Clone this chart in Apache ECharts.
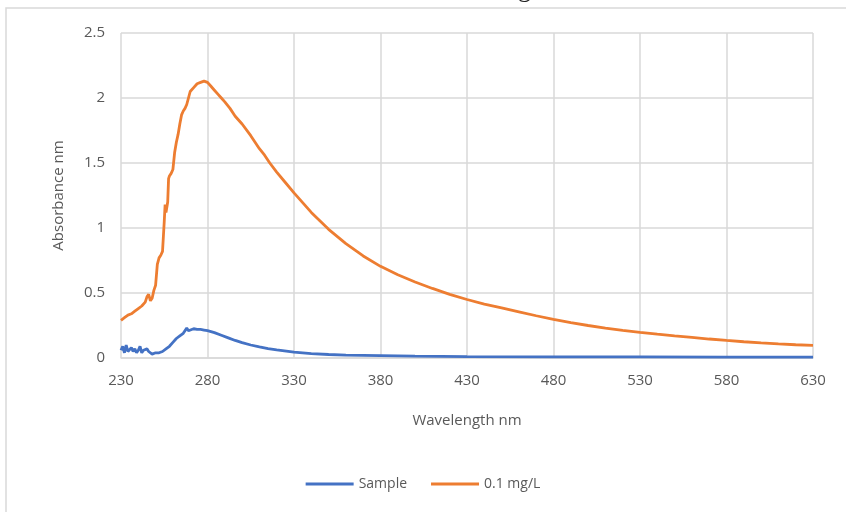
<!DOCTYPE html>
<html>
<head>
<meta charset="utf-8">
<script src="https://cdn.jsdelivr.net/npm/echarts@6/dist/echarts.min.js"></script>
<style>
  html, body { margin: 0; padding: 0; background: #fff; }
  #main { width: 846px; height: 512px; }
</style>
</head>
<body>
<div id="main"></div>
<script>
// wavelength axis starts at 230, ticks every 50
var xStart = 230
var xTicks = [230, 280, 330, 380, 430, 480, 530, 580, 630]

// 0.1 mg/L standard (orange)
var stdWl = [230, 232, 234, 236, 238, 240, 241, 242, 243, 244, 245, 246, 247, 248, 249, 250,
  251, 252, 253, 254, 255, 255.5, 256, 257, 257.5, 258, 259, 260, 261, 262, 263, 264, 265, 266,
  267, 268, 269, 270, 272, 274, 276, 278, 280, 282, 284, 286, 288, 290, 293, 296, 300, 305, 310,
  313, 316, 320, 325, 330, 340, 350, 360, 370, 380, 390, 400, 410, 420, 430, 440, 450, 460, 470,
  480, 490, 500, 510, 520, 530, 540, 550, 560, 570, 580, 590, 600, 610, 620, 630]
var stdAbs = [0.29, 0.31, 0.33, 0.34, 0.36, 0.38, 0.37, 0.40, 0.39, 0.43, 0.47, 0.49, 0.44, 0.46, 0.52, 0.56,
  0.72, 0.77, 0.79, 0.82, 1.05, 1.18, 1.12, 1.20, 1.38, 1.40, 1.42, 1.45, 1.58, 1.66, 1.72, 1.80, 1.87, 1.90,
  1.92, 1.95, 2.00, 2.05, 2.08, 2.11, 2.12, 2.13, 2.12, 2.09, 2.06, 2.03, 2.00, 1.97, 1.92, 1.86, 1.80, 1.71, 1.61,
  1.56, 1.50, 1.43, 1.35, 1.27, 1.12, 0.99, 0.88, 0.785, 0.705, 0.64, 0.585, 0.535, 0.49, 0.45, 0.415, 0.385, 0.355, 0.325,
  0.297, 0.272, 0.25, 0.23, 0.213, 0.197, 0.183, 0.17, 0.158, 0.146, 0.135, 0.125, 0.116, 0.108, 0.102, 0.097]

// sample (blue)
var sampleWl = [230, 231, 232, 233, 234, 235, 236, 237, 238, 239, 240, 241, 242, 243, 244, 245, 246, 247, 248,
  250, 252, 254, 256, 258, 260, 262, 264, 266, 267, 268, 269, 270, 272, 274, 276, 278, 280, 284, 288, 292, 296,
  300, 305, 310, 315, 320, 330, 340, 350, 360, 380, 400, 430, 480, 530, 580, 630]
var sampleAbs = [0.06, 0.09, 0.04, 0.10, 0.05, 0.04, 0.08, 0.05, 0.07, 0.04, 0.06, 0.09, 0.04, 0.06, 0.05, 0.07, 0.05, 0.04, 0.03,
  0.04, 0.04, 0.05, 0.07, 0.09, 0.12, 0.15, 0.17, 0.19, 0.20, 0.23, 0.21, 0.22, 0.225, 0.22, 0.22, 0.215, 0.21, 0.195, 0.175, 0.155, 0.135,
  0.118, 0.10, 0.085, 0.072, 0.062, 0.045, 0.034, 0.027, 0.022, 0.018, 0.014, 0.011, 0.009, 0.008, 0.007, 0.006]

function pairs(wl, vals) {
  var out = []
  for (var i = 0; i < wl.length; i++) out.push([wl[i] - xStart, vals[i]])
  return out
}

var txt = '#595959'
var gridCol = '#d9d9d9'
var font = 'Open Sans'

var myChart = echarts.init(document.getElementById('main'))
var option = {
  animation: false,
  backgroundColor: '#fff',
  textStyle: { fontFamily: font },
  graphic: [
    { type: 'rect', shape: { x: 6, y: 8, width: 860, height: 520 }, style: { fill: 'none', stroke: gridCol, lineWidth: 1.5 } },
    // bottom of the cut-off title
    { type: 'text', x: 518, y: -23, style: { text: 'g', font: '26px "Liberation Serif"', fill: '#222' } }
  ],
  grid: { left: 121, right: 33, top: 33, bottom: 154 },
  legend: {
    bottom: 16,
    left: 'center',
    icon: 'rect',
    itemWidth: 48,
    itemHeight: 3,
    itemGap: 24,
    textStyle: { color: txt, fontSize: 14, fontFamily: font },
    data: ['Sample', '0.1 mg/L']
  },
  xAxis: {
    type: 'value',
    min: 0,
    max: xTicks[xTicks.length - 1] - xStart,
    interval: 50,
    name: 'Wavelength nm',
    nameLocation: 'middle',
    nameGap: 55,
    nameTextStyle: { color: txt, fontSize: 15 },
    axisLine: { show: true, lineStyle: { color: gridCol, width: 1.5 } },
    axisTick: { show: false },
    axisLabel: { color: txt, fontSize: 15, margin: 15, formatter: function (v) { return String(v + xStart) } },
    splitLine: { show: true, lineStyle: { color: gridCol, width: 1.5 } }
  },
  yAxis: {
    type: 'value',
    min: 0,
    max: 2.5,
    interval: 0.5,
    name: 'Absorbance nm',
    nameLocation: 'middle',
    nameGap: 55,
    nameTextStyle: { color: txt, fontSize: 15 },
    axisLine: { show: false },
    axisTick: { show: false },
    axisLabel: { color: txt, fontSize: 15, margin: 16 },
    splitLine: { show: true, lineStyle: { color: gridCol, width: 1.5 } }
  },
  series: [
    {
      name: 'Sample',
      type: 'line',
      showSymbol: false,
      data: pairs(sampleWl, sampleAbs),
      itemStyle: { color: '#4472C4' },
      lineStyle: { color: '#4472C4', width: 2.8 }
    },
    {
      name: '0.1 mg/L',
      type: 'line',
      showSymbol: false,
      data: pairs(stdWl, stdAbs),
      itemStyle: { color: '#ED7D31' },
      lineStyle: { color: '#ED7D31', width: 2.8 }
    }
  ]
}
myChart.setOption(option)
</script>
</body>
</html>
